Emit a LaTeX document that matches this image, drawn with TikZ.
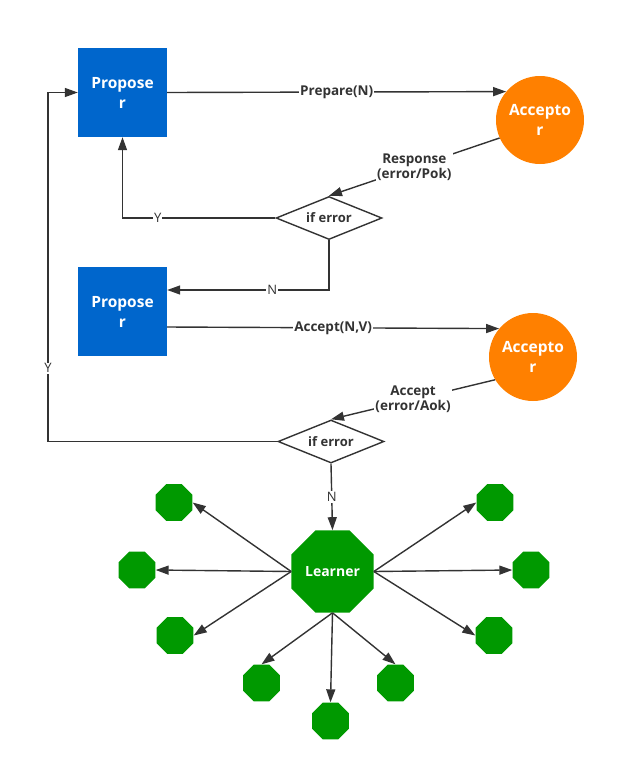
\documentclass[tikz,border=0pt]{standalone}
\usepackage{fontspec}
\setmainfont{Open Sans}
\usetikzlibrary{shapes.geometric,arrows.meta,calc}
\definecolor{pblue}{HTML}{0066CC}
\definecolor{aorange}{HTML}{FF8000}
\definecolor{lgreen}{HTML}{009900}
\definecolor{lineg}{HTML}{333333}
\begin{document}
\begin{tikzpicture}[x=1pt,y=-1pt,
  prop/.style={rectangle, fill=pblue, minimum width=89pt, minimum height=89pt, text=white, font=\bfseries\fontsize{15.5}{20}\selectfont, align=center, inner sep=0pt},
  acc/.style={circle, fill=aorange, minimum size=88pt, text=white, font=\bfseries\fontsize{15.5}{20}\selectfont, align=center, inner sep=0pt},
  dec/.style={diamond, draw=lineg, line width=1.4pt, fill=white, minimum width=106pt, minimum height=43pt, inner sep=0pt, aspect=2.4, font=\bfseries\fontsize{13}{15}\selectfont, text=lineg},
  lrn/.style={regular polygon, regular polygon sides=8, fill=lgreen, minimum size=89pt, inner sep=0pt, text=white, font=\bfseries\fontsize{14}{16}\selectfont},
  oct/.style={regular polygon, regular polygon sides=8, fill=lgreen, minimum size=40pt, inner sep=0pt},
  conn/.style={draw=lineg, line width=1.4pt, -{Triangle[length=13pt,width=9pt]}},
  lbl/.style={fill=white, inner sep=1pt, font=\bfseries\fontsize{13.5}{15}\selectfont, text=lineg, align=center},
  yn/.style={fill=white, inner sep=1pt, font=\fontsize{13}{15}\selectfont, text=lineg}
]
\useasboundingbox (0,0) rectangle (629,769);

\node[prop] (p1) at (122.5,92.5) {Propose\\r};
\node[acc] (a1) at (540,120) {Accepto\\r};
\node[dec] (d1) at (329,218) {if error};
\node[prop] (p2) at (122.5,311.5) {Propose\\r};
\node[acc] (a2) at (533,357) {Accepto\\r};
\node[dec] (d2) at (331,441.5) {if error};
\node[lrn] (l) at (332.5,571.5) {Learner};

\node[oct] (o1) at (174,502.5) {};
\node[oct] (o2) at (137,570) {};
\node[oct] (o3) at (175,635.5) {};
\node[oct] (o4) at (261.5,683) {};
\node[oct] (o5) at (330.5,721) {};
\node[oct] (o6) at (395.5,683) {};
\node[oct] (o7) at (495,502.5) {};
\node[oct] (o8) at (531,570) {};
\node[oct] (o9) at (494,635.5) {};

\coordinate (c1) at (329,290);
\coordinate (c2) at (167,327);
\coordinate (c3) at (48,441.5);
\coordinate (c4) at (48,92.5);

\draw[conn] (p1.east) -- node[lbl]{Prepare(N)} (a1.140);
\draw[conn] (a1.204) -- node[lbl]{Response\\(error/Pok)} (d1.north);
\draw[conn] (d1.west) -| node[yn,pos=0.385]{Y} (p1.south);
\draw[conn] (d1.south) -- (c1) -- node[yn,pos=0.35]{N} (p2.east |- c1);
\draw[conn] (c2) -- node[lbl]{Accept(N,V)} (a2.140);
\draw[conn] (a2.211) -- node[lbl]{Accept\\(error/Aok)} (d2.north);
\draw[conn] (d2.west) -- (c3) -- node[yn,pos=0.21]{Y} (c4) -- (p1.west);
\draw[conn] (d2.south) -- node[yn]{N} (l.north);

\draw[conn] (l.west) -- (o1.east);
\draw[conn] (l.west) -- (o2.east);
\draw[conn] (l.west) -- (o3.east);
\draw[conn] (l.south) -- (o4.north);
\draw[conn] (l.south) -- (o5.north);
\draw[conn] (l.south) -- (o6.north);
\draw[conn] (l.east) -- (o7.west);
\draw[conn] (l.east) -- (o8.west);
\draw[conn] (l.east) -- (o9.west);
\end{tikzpicture}
\end{document}
